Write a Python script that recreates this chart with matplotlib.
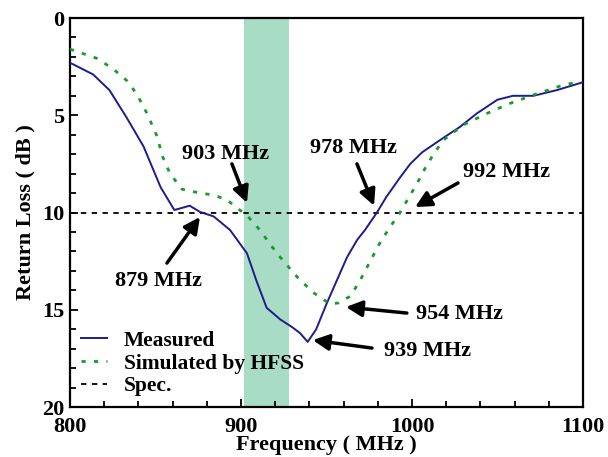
import matplotlib
matplotlib.use("Agg")
import matplotlib.pyplot as plt
from matplotlib.ticker import MultipleLocator

# Data
meas_f = [800, 813.5, 823, 833, 843, 853, 861, 864, 870, 876, 884, 893.6, 903.5, 909, 915, 923,
          930, 934.5, 939, 944, 950, 956, 962, 968, 972.5, 979.5, 985, 993, 999, 1006, 1016,
          1028, 1038, 1050, 1059, 1071, 1085, 1100]
meas_rl = [2.3, 2.9, 3.7, 5.1, 6.6, 8.7, 9.87, 9.8, 9.65, 9.97, 10.2, 10.9, 12.1, 13.5, 14.9, 15.5,
           15.9, 16.2, 16.65, 16.0, 14.7, 13.5, 12.3, 11.4, 10.9, 10.0, 9.2, 8.2, 7.5, 6.9, 6.3,
           5.6, 4.9, 4.2, 4.0, 4.0, 3.7, 3.3]

sim_f = [800, 815.6, 825, 833, 839, 845, 851, 854, 858.5, 865.5, 876, 884, 892, 898, 903, 911,
         921, 932.7, 942, 952, 957, 964, 969.6, 975, 981, 986, 993, 997, 1003, 1009, 1018, 1030,
         1044, 1057, 1071, 1086.5, 1096]
sim_rl = [1.6, 2.07, 2.6, 3.2, 3.9, 4.9, 6.1, 7.1, 8.0, 8.8, 9.0, 9.1, 9.36, 9.8, 10.1, 10.9,
          12.1, 13.3, 14.1, 14.7, 14.65, 14.3, 13.5, 12.6, 11.6, 10.9, 10.0, 9.4, 8.5, 7.5, 6.3, 5.5,
          4.9, 4.4, 3.96, 3.5, 3.3]

spec_level = 10
band = [902, 928]

labels = ["903 MHz", "978 MHz", "992 MHz", "879 MHz", "954 MHz", "939 MHz"]
label_xy = [(891.2, 7.0), (965.5, 6.7), (1055.5, 7.9), (851.8, 13.5), (1027.5, 15.2), (1008.8, 17.1)]
arrow_tail = [(894.7, 7.5), (967.8, 7.5), (1026.9, 8.48), (856.7, 12.6), (997, 15.17), (976.6, 16.97)]
arrow_tip = [(903.5, 9.5), (977.8, 9.65), (1001.8, 9.72), (876, 10.23), (961.4, 14.86), (942, 16.56)]

serif = ["Liberation Serif", "DejaVu Serif"]
plt.rcParams['font.family'] = serif
plt.rcParams['font.weight'] = 'bold'

fig = plt.figure(figsize=(6.08, 4.57), dpi=100)
ax = fig.add_axes([0.1151, 0.1094, 0.9589 - 0.1151, 0.9606 - 0.1094])

ax.axvspan(band[0], band[1], color='#a8dcc4', lw=0, zorder=0)
ax.plot(meas_f, meas_rl, color='#1c1c8c', lw=1.4, label='Measured', zorder=3)
ax.plot(sim_f, sim_rl, color='#1a9a2e', lw=2.0, ls=(0, (1.5, 3)), label='Simulated by HFSS', zorder=3)
ax.axhline(spec_level, color='black', lw=1.3, ls=(0, (3, 3)), label='Spec.', zorder=2)

for t, (tx, ty) in zip(labels, label_xy):
    ax.text(tx, ty, t, ha='center', va='center', fontsize=16, fontweight='bold', zorder=5)
for (sx, sy), (ex, ey) in zip(arrow_tail, arrow_tip):
    ax.annotate('', xy=(ex, ey), xytext=(sx, sy),
                arrowprops=dict(arrowstyle='-|>,head_length=0.8,head_width=0.4', color='black',
                                lw=2.5, shrinkA=0, shrinkB=0, mutation_scale=12), zorder=5)

ax.set_xlim(800, 1100)
ax.set_ylim(20, 0)
ax.xaxis.set_major_locator(MultipleLocator(100))
ax.xaxis.set_minor_locator(MultipleLocator(20))
ax.yaxis.set_major_locator(MultipleLocator(5))
ax.yaxis.set_minor_locator(MultipleLocator(1))
ax.tick_params(which='both', direction='in', top=False, right=False, width=1.3)
ax.tick_params(which='major', length=6, labelsize=16)
ax.tick_params(axis='x', which='major', pad=7)
ax.tick_params(axis='y', which='major', pad=4)
ax.tick_params(which='minor', length=4)
for lab in ax.get_xticklabels() + ax.get_yticklabels():
    lab.set_fontweight('bold')
for s in ax.spines.values():
    s.set_linewidth(1.6)

ax.set_xlabel('Frequency ( MHz )', fontsize=16, fontweight='bold', labelpad=-1)
ax.set_ylabel('Return Loss ( dB )', fontsize=16, fontweight='bold', labelpad=5)

leg = ax.legend(loc='lower left', frameon=False, handlelength=1.2,
                handletextpad=0.8, labelspacing=0.12, borderaxespad=0.1,
                prop={'weight': 'bold', 'size': 15.5})

fig.savefig('out.png', dpi=100)
